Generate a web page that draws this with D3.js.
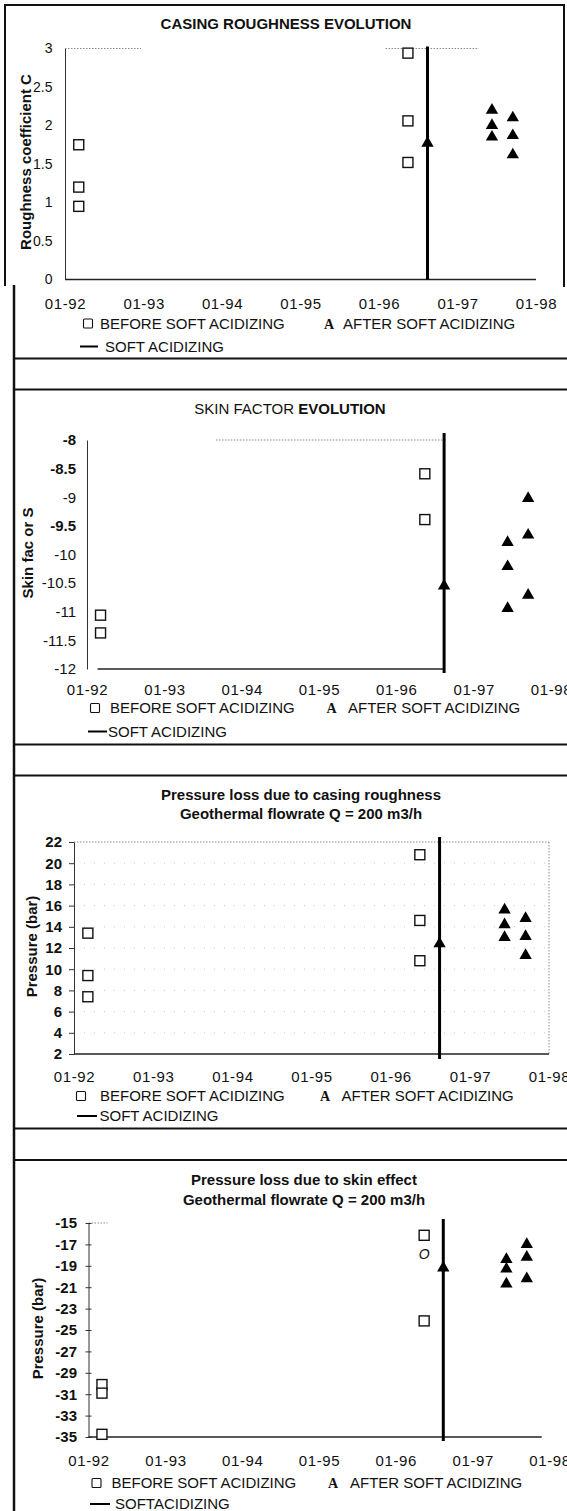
<!DOCTYPE html>
<html>
<head>
<meta charset="utf-8">
<script src="https://cdn.jsdelivr.net/npm/d3@7"></script>
<style>
  body { margin: 0; background: #fff; }
  svg { display: block; font-family: "Liberation Sans", Arial, sans-serif; }
</style>
</head>
<body>
<svg id="page" width="567" height="1511"></svg>
<script>
// x axis : one tick each January
var tickDates = ["1992-01-01", "1993-01-01", "1994-01-01", "1995-01-01", "1996-01-01", "1997-01-01", "1998-01-01"];
var acidizingDate = "1996-08-14";

// casing roughness coefficient C
var roughnessTicks = [0, 0.5, 1, 1.5, 2, 2.5, 3];
var roughnessBefore = [["1992-03-05", 1.75], ["1992-03-05", 1.2], ["1992-03-05", 0.95],
                       ["1996-05-15", 2.94], ["1996-05-15", 2.06], ["1996-05-15", 1.52]];
var roughnessAfter = [["1996-08-14", 1.77],
                      ["1997-06-10", 2.2], ["1997-06-10", 2.0], ["1997-06-10", 1.85],
                      ["1997-09-15", 2.1], ["1997-09-15", 1.87], ["1997-09-15", 1.62]];

// skin factor S
var skinTicks = [-12, -11.5, -11, -10.5, -10, -9.5, -9, -8.5, -8];
var skinBefore = [["1992-03-05", -11.06], ["1992-03-05", -11.37],
                  ["1996-05-15", -8.59], ["1996-05-15", -9.39]];
var skinAfter = [["1996-08-14", -10.55],
                 ["1997-06-10", -9.79], ["1997-06-10", -10.21], ["1997-06-10", -10.94],
                 ["1997-09-15", -9.02], ["1997-09-15", -9.66], ["1997-09-15", -10.71]];

// pressure loss due to casing roughness (bar)
var casingTicks = [2, 4, 6, 8, 10, 12, 14, 16, 18, 20, 22];
var casingBefore = [["1992-03-05", 13.4], ["1992-03-05", 9.4], ["1992-03-05", 7.4],
                    ["1996-05-15", 20.8], ["1996-05-15", 14.6], ["1996-05-15", 10.8]];
var casingAfter = [["1996-08-14", 12.4],
                   ["1997-06-10", 15.6], ["1997-06-10", 14.2], ["1997-06-10", 13.0],
                   ["1997-09-15", 14.8], ["1997-09-15", 13.1], ["1997-09-15", 11.3]];

// pressure loss due to skin effect (bar)
var skinLossTicks = [-35, -33, -31, -29, -27, -25, -23, -21, -19, -17, -15];
var skinLossBefore = [["1992-03-05", -30.1], ["1992-03-05", -30.9], ["1992-03-05", -34.75],
                      ["1996-05-15", -16.15], ["1996-05-15", -24.15]];
var skinLossStray = [["1996-05-15", -17.9, "O"]];
var skinLossAfter = [["1996-08-14", -19.2],
                     ["1997-06-10", -18.4], ["1997-06-10", -19.3], ["1997-06-10", -20.7],
                     ["1997-09-15", -17.0], ["1997-09-15", -18.2], ["1997-09-15", -20.2]];

var parse = d3.timeParse("%Y-%m-%d");
var fmt = d3.timeFormat("%m-%y");

var charts = [
  {
    title: [[["CASING ROUGHNESS EVOLUTION", 700]]], titleX: 286, titleY: [29],
    yTitle: "Roughness coefficient C", yTitleX: 26, yTitleY: 162,
    ticks: roughnessTicks, yDomain: [0, 3], yFmt: d3.format("~g"), boldTicks: [],
    tickFont: 14, tickSize: 0, tickPad: 12.5, tickCross: false,
    before: roughnessBefore, after: roughnessAfter, stray: [],
    x0: 65, x1: 536, yTop: 48.5, yBot: 279.5, vOver: [2, 0],
    base: ["1992-01-01", "1998-01-01"],
    topDots: [["1992-01-01", "1992-12-20"], ["1996-02-01", "1997-04-10"]], rightDots: false,
    xLabelY: 303.5, legY: [323.5, 346.5],
    legSq: 88, legBefore: 100, legA: 329, legAfter: 343, legLine: [80, 98], legSoft: 105,
    softText: "SOFT ACIDIZING"
  },
  {
    title: [[["SKIN FACTOR ", 400], ["EVOLUTION", 700]]], titleX: 290, titleY: [414],
    yTitle: "Skin fac or S", yTitleX: 27.5, yTitleY: 553,
    ticks: skinTicks, yDomain: [-12, -8], yFmt: d3.format("~g"), boldTicks: [-8, -8.5, -9.5],
    tickFont: 15, tickSize: 0, tickPad: 11, tickCross: false,
    before: skinBefore, after: skinAfter, stray: [],
    x0: 87, x1: 551, yTop: 440, yBot: 669, vOver: [7, 4],
    base: ["1992-02-20", acidizingDate],
    topDots: [["1993-09-01", "1996-08-20"]], rightDots: false,
    xLabelY: 690, legY: [708, 731.5],
    legSq: 95, legBefore: 110, legA: 331.5, legAfter: 348, legLine: [88, 107], legSoft: 108,
    softText: "SOFT ACIDIZING"
  },
  {
    title: [[["Pressure loss due to casing roughness", 700]], [["Geothermal flowrate Q = 200 m3/h", 700]]],
    titleX: 301, titleY: [799.5, 819],
    yTitle: "Pressure (bar)", yTitleX: 31.5, yTitleY: 946.5,
    ticks: casingTicks, yDomain: [2, 22], yFmt: d3.format("d"), boldTicks: casingTicks,
    tickFont: 15, tickSize: 5, tickPad: 7, tickCross: false,
    before: casingBefore, after: casingAfter, stray: [],
    x0: 74, x1: 549, yTop: 842, yBot: 1054, vOver: [5, 5],
    base: ["1992-01-01", "1998-01-01"],
    topDots: [["1992-01-01", "1998-01-01"]], rightDots: true,
    xLabelY: 1077, legY: [1096, 1116],
    legSq: 81, legBefore: 100, legA: 325, legAfter: 341.5, legLine: [77, 97], legSoft: 99.5,
    softText: "SOFT ACIDIZING"
  },
  {
    title: [[["Pressure loss due to skin effect", 700]], [["Geothermal flowrate Q = 200 m3/h", 700]]],
    titleX: 304, titleY: [1184.5, 1204.5],
    yTitle: "Pressure (bar)", yTitleX: 37.5, yTitleY: 1328.5,
    ticks: skinLossTicks, yDomain: [-35, -15], yFmt: d3.format("d"), boldTicks: skinLossTicks,
    tickFont: 15, tickSize: 3, tickPad: 8.5, tickCross: true,
    before: skinLossBefore, after: skinLossAfter, stray: skinLossStray,
    x0: 88.5, x1: 549.5, yTop: 1223, yBot: 1437, vOver: [4, 4],
    base: ["1992-01-01", "1997-11-25"],
    topDots: [["1992-01-01", "1992-04-01"]], rightDots: false,
    xLabelY: 1461, legY: [1483, 1504],
    legSq: 96.5, legBefore: 111.5, legA: 333, legAfter: 350, legLine: [90, 110], legSoft: 115,
    softText: "SOFTACIDIZING"
  }
];

var svg = d3.select("#page");

// page frame (scanned table borders)
var frame = svg.append("g").attr("stroke", "#111").attr("fill", "none");
frame.append("path").attr("stroke-width", 2).attr("d", "M5,286 V5 H564 V287");
frame.append("line").attr("stroke-width", 2.5).attr("x1", 14).attr("x2", 14).attr("y1", 285).attr("y2", 1511);
[358.5, 389.5, 744.5, 775.5, 1128.5, 1160].forEach(function (yy) {
  frame.append("line").attr("stroke-width", 2).attr("x1", 14).attr("x2", 567).attr("y1", yy).attr("y2", yy);
});

charts.forEach(function (c) { drawChart(svg.append("g"), c); });

function drawChart(g, c) {
  var x = d3.scaleTime()
    .domain([parse(tickDates[0]), parse(tickDates[tickDates.length - 1])])
    .range([c.x0, c.x1]);
  var y = d3.scaleLinear().domain(c.yDomain).range([c.yBot, c.yTop]);

  // title
  c.title.forEach(function (line, i) {
    var t = g.append("text")
      .attr("x", c.titleX).attr("y", c.titleY[i])
      .attr("text-anchor", "middle").attr("font-size", 15).attr("fill", "#111");
    line.forEach(function (part) {
      t.append("tspan").attr("font-weight", part[1]).text(part[0]);
    });
  });

  // y axis title
  g.append("text")
    .attr("transform", "translate(" + c.yTitleX + "," + c.yTitleY + ") rotate(-90)")
    .attr("text-anchor", "middle").attr("dy", "0.36em")
    .attr("font-size", 15).attr("font-weight", 700).attr("fill", "#111")
    .text(c.yTitle);

  // faint dotted remains of the plot-area border
  c.topDots.forEach(function (seg) {
    g.append("line")
      .attr("x1", x(parse(seg[0]))).attr("x2", x(parse(seg[1])))
      .attr("y1", y(c.yDomain[1])).attr("y2", y(c.yDomain[1]))
      .attr("stroke", "#888").attr("stroke-width", 1).attr("stroke-dasharray", "1.5,1.5");
  });
  if (c.rightDots) {
    g.append("line")
      .attr("x1", c.x1).attr("x2", c.x1).attr("y1", c.yTop).attr("y2", c.yBot)
      .attr("stroke", "#888").attr("stroke-width", 1).attr("stroke-dasharray", "1.5,1.5");
    g.selectAll(".grid").data(c.ticks.slice(1, -1)).enter().append("line")
      .attr("x1", c.x0).attr("x2", c.x1)
      .attr("y1", function (d) { return y(d); }).attr("y2", function (d) { return y(d); })
      .attr("stroke", "#bbb").attr("stroke-width", 0.8).attr("stroke-dasharray", "1,9");
  }

  // y axis
  var yAxis = d3.axisLeft(y)
    .tickValues(c.ticks)
    .tickFormat(function (d) { return c.yFmt(d).replace("\u2212", "-"); })
    .tickSizeInner(c.tickSize).tickSizeOuter(0).tickPadding(c.tickPad);
  var ya = g.append("g").attr("transform", "translate(" + c.x0 + ",0)").call(yAxis);
  ya.select(".domain").attr("stroke", "#333").attr("stroke-width", 1);
  ya.selectAll(".tick line").attr("stroke", "#333");
  if (c.tickCross) ya.selectAll(".tick line").attr("x1", c.tickSize);
  ya.selectAll(".tick text")
    .attr("font-size", c.tickFont).attr("fill", "#111").attr("font-family", null)
    .attr("font-weight", function (d) { return c.boldTicks.indexOf(d) >= 0 ? 700 : 400; });

  // x axis (labels only; baseline drawn separately)
  var xAxis = d3.axisBottom(x)
    .tickValues(tickDates.map(parse))
    .tickFormat(fmt)
    .tickSize(0)
    .tickPadding(c.xLabelY - c.yBot - 0.355 * 15);
  var xa = g.append("g").attr("transform", "translate(0," + c.yBot + ")").call(xAxis);
  xa.select(".domain").remove();
  xa.selectAll(".tick text")
    .attr("font-size", 15).attr("letter-spacing", 0.6).attr("fill", "#111").attr("font-family", null);

  g.append("line")
    .attr("x1", x(parse(c.base[0]))).attr("x2", x(parse(c.base[1])))
    .attr("y1", c.yBot).attr("y2", c.yBot)
    .attr("stroke", "#222").attr("stroke-width", 1.4);

  // before soft acidizing : open squares
  g.selectAll(".before").data(c.before).enter().append("rect")
    .attr("x", function (d) { return x(parse(d[0])) - 5; })
    .attr("y", function (d) { return y(d[1]) - 5; })
    .attr("width", 10).attr("height", 10)
    .attr("fill", "#fff").attr("stroke", "#111").attr("stroke-width", 1.4);

  c.stray.forEach(function (d) {
    g.append("text")
      .attr("x", x(parse(d[0]))).attr("y", y(d[1]))
      .attr("text-anchor", "middle").attr("dy", "0.36em")
      .attr("font-size", 14).attr("font-style", "italic").attr("fill", "#111")
      .text(d[2]);
  });

  // soft acidizing
  var xs = x(parse(acidizingDate));
  g.append("line")
    .attr("x1", xs).attr("x2", xs)
    .attr("y1", c.yTop - c.vOver[0]).attr("y2", c.yBot + c.vOver[1])
    .attr("stroke", "#000").attr("stroke-width", 3);

  // after soft acidizing : filled triangles
  g.selectAll(".after").data(c.after).enter().append("path")
    .attr("d", d3.symbol().type(d3.symbolTriangle).size(66))
    .attr("transform", function (d) { return "translate(" + x(parse(d[0])) + "," + y(d[1]) + ")"; })
    .attr("fill", "#000");

  // legend
  var l1 = c.legY[0], l2 = c.legY[1];
  g.append("rect")
    .attr("x", c.legSq - 4.5).attr("y", l1 - 4.5).attr("width", 9).attr("height", 9).attr("rx", 1)
    .attr("fill", "none").attr("stroke", "#111").attr("stroke-width", 1.1);
  g.append("text").attr("x", c.legBefore).attr("y", l1).attr("dy", "0.36em")
    .attr("font-size", 15).attr("fill", "#111").text("BEFORE SOFT ACIDIZING");
  g.append("text").attr("x", c.legA).attr("y", l1).attr("dy", "0.36em")
    .attr("text-anchor", "middle")
    .attr("font-family", "'Liberation Serif', 'DejaVu Serif', serif")
    .attr("font-size", 14).attr("font-weight", 700).attr("fill", "#111").text("A");
  g.append("text").attr("x", c.legAfter).attr("y", l1).attr("dy", "0.36em")
    .attr("font-size", 15).attr("fill", "#111").text("AFTER SOFT ACIDIZING");
  g.append("line")
    .attr("x1", c.legLine[0]).attr("x2", c.legLine[1]).attr("y1", l2).attr("y2", l2)
    .attr("stroke", "#000").attr("stroke-width", 2);
  g.append("text").attr("x", c.legSoft).attr("y", l2).attr("dy", "0.36em")
    .attr("font-size", 15).attr("fill", "#111").text(c.softText);
}
</script>
</body>
</html>
